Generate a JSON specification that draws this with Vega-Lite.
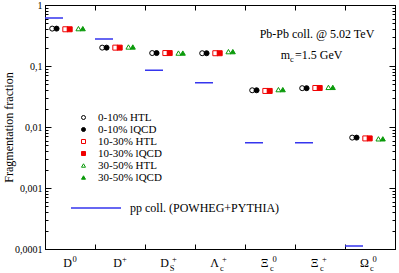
{
  "$schema": "https://vega.github.io/schema/vega-lite/v6.json",
  "width": 350,
  "height": 244,
  "autosize": {"type": "none"},
  "padding": {"left": 45, "top": 5, "right": 4, "bottom": 24},
  "background": "white",
  "config": {
    "font": "Liberation Serif",
    "view": {"stroke": "#000", "strokeWidth": 1},
    "axis": {"domainColor": "#000", "tickColor": "#000", "labelColor": "#000", "titleColor": "#000", "labelFont": "Liberation Serif", "titleFont": "Liberation Serif", "grid": false, "domainWidth": 1, "tickWidth": 1}
  },
  "datasets": {
    "frag": [
      {"cat": "D0", "series": "0-10% HTL", "v": 0.41},
      {"cat": "D0", "series": "0-10% lQCD", "v": 0.41},
      {"cat": "D0", "series": "10-30% HTL", "v": 0.40},
      {"cat": "D0", "series": "10-30% lQCD", "v": 0.40},
      {"cat": "D0", "series": "30-50% HTL", "v": 0.41},
      {"cat": "D0", "series": "30-50% lQCD", "v": 0.41},
      {"cat": "D+", "series": "0-10% HTL", "v": 0.20},
      {"cat": "D+", "series": "0-10% lQCD", "v": 0.20},
      {"cat": "D+", "series": "10-30% HTL", "v": 0.20},
      {"cat": "D+", "series": "10-30% lQCD", "v": 0.20},
      {"cat": "D+", "series": "30-50% HTL", "v": 0.205},
      {"cat": "D+", "series": "30-50% lQCD", "v": 0.205},
      {"cat": "Ds+", "series": "0-10% HTL", "v": 0.163},
      {"cat": "Ds+", "series": "0-10% lQCD", "v": 0.163},
      {"cat": "Ds+", "series": "10-30% HTL", "v": 0.163},
      {"cat": "Ds+", "series": "10-30% lQCD", "v": 0.163},
      {"cat": "Ds+", "series": "30-50% HTL", "v": 0.163},
      {"cat": "Ds+", "series": "30-50% lQCD", "v": 0.163},
      {"cat": "Λc+", "series": "0-10% HTL", "v": 0.162},
      {"cat": "Λc+", "series": "0-10% lQCD", "v": 0.162},
      {"cat": "Λc+", "series": "10-30% HTL", "v": 0.162},
      {"cat": "Λc+", "series": "10-30% lQCD", "v": 0.162},
      {"cat": "Λc+", "series": "30-50% HTL", "v": 0.172},
      {"cat": "Λc+", "series": "30-50% lQCD", "v": 0.172},
      {"cat": "Ξc0", "series": "0-10% HTL", "v": 0.040},
      {"cat": "Ξc0", "series": "0-10% lQCD", "v": 0.040},
      {"cat": "Ξc0", "series": "10-30% HTL", "v": 0.039},
      {"cat": "Ξc0", "series": "10-30% lQCD", "v": 0.039},
      {"cat": "Ξc0", "series": "30-50% HTL", "v": 0.041},
      {"cat": "Ξc0", "series": "30-50% lQCD", "v": 0.041},
      {"cat": "Ξc+", "series": "0-10% HTL", "v": 0.0433},
      {"cat": "Ξc+", "series": "0-10% lQCD", "v": 0.0433},
      {"cat": "Ξc+", "series": "10-30% HTL", "v": 0.0436},
      {"cat": "Ξc+", "series": "10-30% lQCD", "v": 0.0436},
      {"cat": "Ξc+", "series": "30-50% HTL", "v": 0.0446},
      {"cat": "Ξc+", "series": "30-50% lQCD", "v": 0.0446},
      {"cat": "Ωc0", "series": "0-10% HTL", "v": 0.0067},
      {"cat": "Ωc0", "series": "0-10% lQCD", "v": 0.0067},
      {"cat": "Ωc0", "series": "10-30% HTL", "v": 0.0065},
      {"cat": "Ωc0", "series": "10-30% lQCD", "v": 0.0065},
      {"cat": "Ωc0", "series": "30-50% HTL", "v": 0.0064},
      {"cat": "Ωc0", "series": "30-50% lQCD", "v": 0.0064}
    ],
    "pp": [
      {"cat": "D0", "pp": 0.61, "src": "pp coll. (POWHEG+PYTHIA)"},
      {"cat": "D+", "pp": 0.277, "src": "pp coll. (POWHEG+PYTHIA)"},
      {"cat": "Ds+", "pp": 0.085, "src": "pp coll. (POWHEG+PYTHIA)"},
      {"cat": "Λc+", "pp": 0.053, "src": "pp coll. (POWHEG+PYTHIA)"},
      {"cat": "Ξc0", "pp": 0.0055, "src": "pp coll. (POWHEG+PYTHIA)"},
      {"cat": "Ξc+", "pp": 0.0055, "src": "pp coll. (POWHEG+PYTHIA)"},
      {"cat": "Ωc0", "pp": 0.000112, "src": "pp coll. (POWHEG+PYTHIA)"}
    ],
    "lab": [
      {"cat": "D0", "sup": "0", "sub": ""},
      {"cat": "D+", "sup": "+", "sub": ""},
      {"cat": "Ds+", "sup": "+", "sub": "S"},
      {"cat": "Λc+", "sup": "+", "sub": "c"},
      {"cat": "Ξc0", "sup": "0", "sub": "c"},
      {"cat": "Ξc+", "sup": "+", "sub": "c"},
      {"cat": "Ωc0", "sup": "0", "sub": "c"}
    ]
  },
  "layer": [
    {
      "data": {"name": "pp"},
      "mark": {"type": "bar", "filled": false, "strokeWidth": 1.5, "width": {"band": 1}},
      "encoding": {
        "x": {"field": "cat", "type": "nominal", "sort": null,
          "scale": {"domain": ["D0", "D+", "Ds+", "Λc+", "Ξc0", "Ξc+", "Ωc0"], "paddingInner": 0, "paddingOuter": 0},
          "axis": {"orient": "top", "labels": false, "title": null, "tickBand": "extent", "tickSize": -5}},
        "y": {"field": "pp", "type": "quantitative",
          "scale": {"type": "log", "domain": [0.0001, 1], "nice": false},
          "axis": {"orient": "right", "labels": false, "title": null,
            "values": [0.0001,0.0002,0.0003,0.0004,0.0005,0.0006,0.0007,0.0008,0.0009,0.001,0.002,0.003,0.004,0.005,0.006,0.007,0.008,0.009,0.01,0.02,0.03,0.04,0.05,0.06,0.07,0.08,0.09,0.1,0.2,0.3,0.4,0.5,0.6,0.7,0.8,0.9,1],
            "tickSize": {"condition": {"test": "abs(log(datum.value)/LN10 - round(log(datum.value)/LN10)) < 0.001", "value": -6}, "value": -3}}},
        "y2": {"field": "pp"},
        "stroke": {"field": "src", "type": "nominal", "scale": {"range": ["#3535ee"]},
          "legend": {"orient": "none", "legendX": 25, "legendY": 177, "title": null, "symbolType": "stroke", "symbolSize": 2500, "symbolStrokeWidth": 1.5, "labelFontSize": 12, "labelFont": "Liberation Serif", "labelColor": "#000", "labelOffset": 8, "padding": 0}}
      }
    },
    {
      "data": {"name": "frag"},
      "mark": {"type": "point", "filled": false, "size": 25, "strokeWidth": 1, "opacity": 1},
      "encoding": {
        "x": {"field": "cat", "type": "nominal", "sort": null,
          "axis": {"orient": "bottom", "title": null, "tickBand": "extent", "tickSize": -5, "labelAngle": 0,
            "labelExpr": "isValid(datum.value) ? substring(datum.value, 0, 1) : ''", "labelFontSize": 12, "labelPadding": 13,
            "labelOffset": {"condition": {"test": "datum.value == 'D0' || datum.value == 'D+'", "value": -3}, "value": -6}}},
        "xOffset": {"field": "series", "type": "nominal",
          "scale": {"domain": ["0-10% HTL", "0-10% lQCD", "gap1", "10-30% HTL", "10-30% lQCD", "gap2", "30-50% HTL", "30-50% lQCD"], "range": [5, 40]}},
        "y": {"field": "v", "type": "quantitative",
          "axis": {"orient": "left", "title": "Fragmentation fraction", "titleFontSize": 12, "titleFontWeight": "normal", "titlePadding": -1,
            "values": [0.0001,0.0002,0.0003,0.0004,0.0005,0.0006,0.0007,0.0008,0.0009,0.001,0.002,0.003,0.004,0.005,0.006,0.007,0.008,0.009,0.01,0.02,0.03,0.04,0.05,0.06,0.07,0.08,0.09,0.1,0.2,0.3,0.4,0.5,0.6,0.7,0.8,0.9,1],
            "labelExpr": "abs(log(datum.value)/LN10 - round(log(datum.value)/LN10)) < 0.001 ? replace(format(datum.value, '.4~f'), '.', ',') : ''",
            "labelFontSize": 10, "labelPadding": 9, "labelOverlap": false, "labelBound": false, "labelFlush": false,
            "tickSize": {"condition": {"test": "abs(log(datum.value)/LN10 - round(log(datum.value)/LN10)) < 0.001", "value": -6}, "value": -3}}},
        "shape": {"field": "series", "type": "nominal",
          "scale": {"domain": ["0-10% HTL", "0-10% lQCD", "10-30% HTL", "10-30% lQCD", "30-50% HTL", "30-50% lQCD"], "range": ["circle", "circle", "square", "square", "triangle-up", "triangle-up"]},
          "legend": {"orient": "none", "legendX": 33, "legendY": 107, "title": null, "symbolSize": 16, "symbolStrokeWidth": 1, "labelFontSize": 11, "labelFont": "Liberation Serif", "labelColor": "#000", "labelOffset": 9, "rowPadding": 0, "padding": 0}},
        "color": {"field": "series", "type": "nominal",
          "scale": {"domain": ["0-10% HTL", "0-10% lQCD", "10-30% HTL", "10-30% lQCD", "30-50% HTL", "30-50% lQCD"], "range": ["#000000", "#000000", "#f00000", "#f00000", "#0a9a0a", "#0a9a0a"]},
          "legend": {"orient": "none", "legendX": 33, "legendY": 107, "title": null, "symbolSize": 16, "symbolStrokeWidth": 1, "labelFontSize": 11, "labelFont": "Liberation Serif", "labelColor": "#000", "labelOffset": 9, "rowPadding": 0, "padding": 0}},
        "fill": {"field": "series", "type": "nominal",
          "scale": {"domain": ["0-10% HTL", "0-10% lQCD", "10-30% HTL", "10-30% lQCD", "30-50% HTL", "30-50% lQCD"], "range": ["transparent", "#000000", "transparent", "#f00000", "transparent", "#0a9a0a"]},
          "legend": {"orient": "none", "legendX": 33, "legendY": 107, "title": null, "symbolSize": 16, "symbolStrokeWidth": 1, "labelFontSize": 11, "labelFont": "Liberation Serif", "labelColor": "#000", "labelOffset": 9, "rowPadding": 0, "padding": 0}}
      }
    },
    {
      "data": {"name": "lab"},
      "mark": {"type": "text", "fontSize": 8.5, "dx": 4.5, "dy": 9.5, "align": "center", "baseline": "middle", "color": "#000"},
      "encoding": {
        "x": {"field": "cat", "type": "nominal", "sort": null, "axis": null},
        "y": {"datum": 0.0001, "axis": null},
        "text": {"field": "sup"}
      }
    },
    {
      "data": {"name": "lab"},
      "mark": {"type": "text", "fontSize": 8.5, "dx": 2, "dy": 19, "align": "center", "baseline": "middle", "color": "#000"},
      "encoding": {
        "x": {"field": "cat", "type": "nominal", "sort": null, "axis": null},
        "y": {"datum": 0.0001, "axis": null},
        "text": {"field": "sub"}
      }
    },
    {
      "data": {"values": [{"t": "Pb-Pb coll. @ 5.02 TeV"}]},
      "mark": {"type": "text", "fontSize": 12, "dx": -3, "align": "center", "baseline": "middle", "color": "#000"},
      "encoding": {
        "x": {"datum": "Ξc+", "axis": null},
        "y": {"datum": 0.335, "axis": null},
        "text": {"field": "t"}
      }
    },
    {
      "data": {"values": [{"t": "m"}]},
      "mark": {"type": "text", "fontSize": 12, "dx": -30, "align": "right", "baseline": "middle", "color": "#000"},
      "encoding": {
        "x": {"datum": "Ξc+", "axis": null},
        "y": {"datum": 0.151, "axis": null},
        "text": {"field": "t"}
      }
    },
    {
      "data": {"values": [{"t": "c"}]},
      "mark": {"type": "text", "fontSize": 8.5, "dx": -30, "dy": 4, "align": "left", "baseline": "middle", "color": "#000"},
      "encoding": {
        "x": {"datum": "Ξc+", "axis": null},
        "y": {"datum": 0.151, "axis": null},
        "text": {"field": "t"}
      }
    },
    {
      "data": {"values": [{"t": "=1.5 GeV"}]},
      "mark": {"type": "text", "fontSize": 12, "dx": -25, "align": "left", "baseline": "middle", "color": "#000"},
      "encoding": {
        "x": {"datum": "Ξc+", "axis": null},
        "y": {"datum": 0.151, "axis": null},
        "text": {"field": "t"}
      }
    }
  ],
  "resolve": {"axis": {"x": "independent", "y": "independent"}}
}
